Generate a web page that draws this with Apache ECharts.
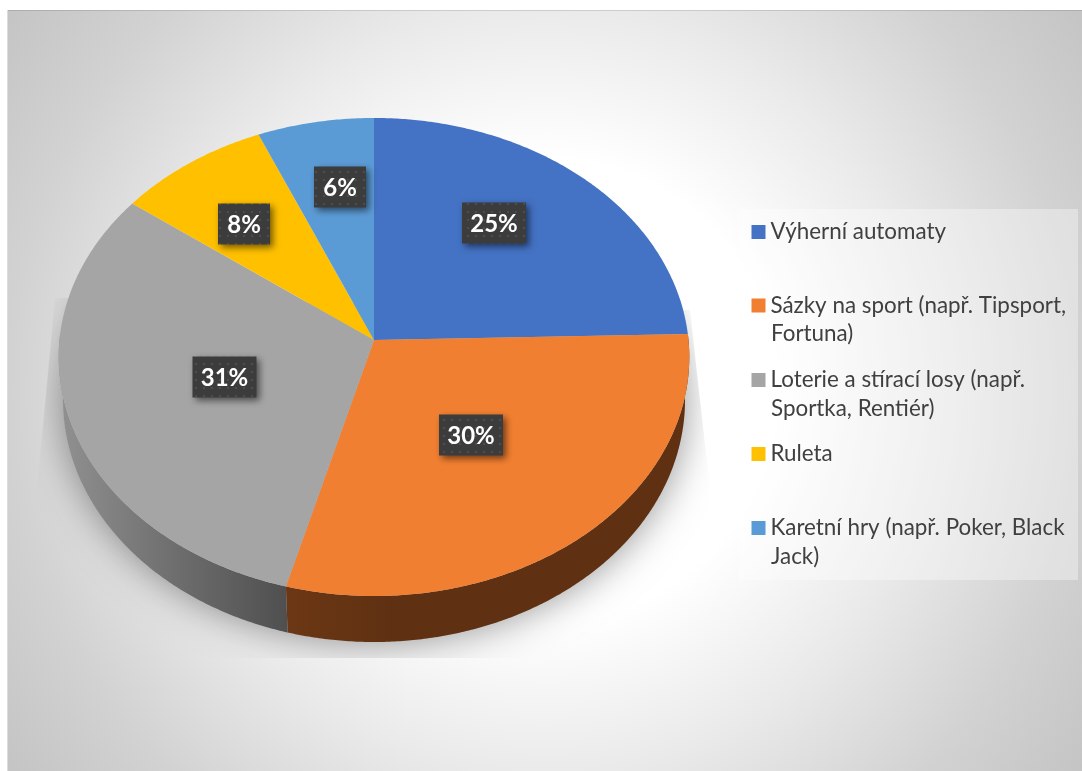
<!DOCTYPE html>
<html>
<head>
<meta charset="utf-8">
<style>html,body{margin:0;padding:0;background:#fff}#c{width:1082px;height:771px}</style>
<script src="https://cdn.jsdelivr.net/npm/echarts@6/dist/echarts.min.js"></script>
</head>
<body>
<div id="c"></div>
<script>
// ---- data ----
const legendLine1 = ["Výherní automaty", "Sázky na sport (např. Tipsport,", "Loterie a stírací losy (např.", "Ruleta", "Karetní hry (např. Poker, Black"];
const legendLine2 = ["", "Fortuna)", "Sportka, Rentiér)", "", "Jack)"];
const shares = [24.6, 29.6, 31, 8.4, 6.4];
const colors = ["#4472c4", "#f17f31", "#a5a5a5", "#ffc000", "#5b9bd5"];

// ---- layout ----
const CX = 374, CY = 340, RX = 314.5, SY = 237.8, K = 0.0711;
const LOW = {cx: 374, cy: 400, rx: 311, ry: 242, twist: 1};
const WALL_FROM = 88, WALL_TO = 272;
const labelBoxes = [[494, 223, 64], [471, 435, 64], [224.5, 377, 64], [244, 224, 52], [340, 187, 52]];
const legendTops = [225, 298.5, 373, 447, 521];
const wallFills = [
  null,
  {type:'linear', x:288, y:0, x2:690, y2:0, global:true, colorStops:[{offset:0,color:'#6c3714'},{offset:.25,color:'#5f3112'},{offset:1,color:'#5f3112'}]},
  {type:'linear', x:62, y:0, x2:288, y2:0, global:true, colorStops:[{offset:0,color:'#909090'},{offset:.5,color:'#6e6e6e'},{offset:1,color:'#4f4f4f'}]},
  null, null
];

const rad = d => d * Math.PI / 180;
function topPt(t){ const u=Math.sin(rad(t)), v=Math.cos(rad(t)), w=1+K*v; return [CX+RX*u/w, CY-SY*v/w]; }
function lowPt(t){ const a=rad(t+LOW.twist); return [LOW.cx+LOW.rx*Math.sin(a), LOW.cy-LOW.ry*Math.cos(a)]; }
function arc(fn,a,b){ const pts=[], n=Math.max(2,Math.ceil(Math.abs(b-a))*2); for(let i=0;i<=n;i++) pts.push(fn(a+(b-a)*i/n)); return pts; }

function dotPattern(){
  const c=document.createElement('canvas'); c.width=8; c.height=8;
  const g=c.getContext('2d'); g.fillStyle='#3c3c3c'; g.fillRect(0,0,8,8);
  g.fillStyle='#4d4d4d'; g.fillRect(3,3,2,2);
  return c;
}
const pattern={image:dotPattern(), repeat:'repeat'};

let acc=0;
const starts=shares.map(v=>{const s=acc; acc+=v; return s;});

function sliceSeries(i){
  const name=legendLine1[i]+(legendLine2[i]?' '+legendLine2[i]:'');
  return {
    type:'custom', name, coordinateSystem:'none', silent:true,
    data:[[starts[i],shares[i]]],
    itemStyle:{color:colors[i]},
    renderItem(params,api){
      const a=api.value(0)*3.6, b=a+api.value(1)*3.6;
      const children=[];
      const wa=Math.max(a,WALL_FROM), wb=Math.min(b,WALL_TO);
      if(wb>wa && wallFills[i]){
        children.push({type:'polygon',z2:1,shape:{points:arc(topPt,wa,wb).concat(arc(lowPt,wb,wa))},style:{fill:wallFills[i]}});
      }
      children.push({type:'polygon',z2:2,shape:{points:[[CX,CY]].concat(arc(topPt,a,b))},style:{fill:colors[i]}});
      const [lx,ly,lw]=labelBoxes[i], lh=41;
      children.push({type:'rect',z2:5,shape:{x:lx-lw/2,y:ly-lh/2,width:lw,height:lh},
        style:{fill:pattern,shadowBlur:7,shadowOffsetX:3,shadowOffsetY:3,shadowColor:'rgba(0,0,0,0.55)'}});
      children.push({type:'text',z2:6,x:lx,y:ly+1,style:{text:Math.round(api.value(1))+'%',fill:'#fff',
        font:'bold 24px Lato',align:'center',verticalAlign:'middle'}});
      return {type:'group',children};
    }
  };
}

const shadowSeries={
  type:'custom',name:'shadow',coordinateSystem:'none',silent:true,data:[[0]],
  renderItem(){
    return {type:'ellipse',z2:0,shape:{cx:LOW.cx,cy:LOW.cy,rx:LOW.rx,ry:LOW.ry},
      style:{fill:'#bdbdbd',shadowBlur:38,shadowColor:'rgba(0,0,0,0.42)'},
      clipPath:{type:'polygon',shape:{points:[[55,298],[37,490],[37,658],[710,658],[710,490],[690,310]]}}};
  }
};

const chart=echarts.init(document.getElementById('c'),null,{renderer:'canvas'});
chart.setOption({
  animation:false,
  backgroundColor:'#ffffff',
  graphic:{elements:[
    {type:'rect',z:0,silent:true,shape:{x:8,y:10,width:1074,height:761},style:{fill:{type:'radial',x:545,y:390,r:660,global:true,
      colorStops:[{offset:0,color:'#ffffff'},{offset:.35,color:'#ffffff'},{offset:.58,color:'#eaeaea'},{offset:.81,color:'#d2d2d2'},{offset:1,color:'#c4c4c4'}]}}},
    {type:'rect',z:0,silent:true,shape:{x:8,y:10,width:1074,height:1},style:{fill:'rgba(0,0,0,0.12)'}},
    {type:'rect',z:0,silent:true,shape:{x:7,y:10,width:1,height:761},style:{fill:'#dcdcdc'}},
    {type:'rect',z:1,silent:true,shape:{x:739,y:209,width:339,height:371},style:{fill:'rgba(255,255,255,0.35)'}},
    ...legendLine2.map((t,i)=>t?{type:'text',z:5,silent:true,x:771,y:legendTops[i]+7+28.5,
      style:{text:t,fill:'#404040',font:'22.4px Lato',verticalAlign:'middle'}}:null).filter(Boolean)
  ]},
  legend:legendLine1.map((t,i)=>({
    left:751.5, top:legendTops[i]-7, orient:'vertical', padding:0, itemWidth:14, itemHeight:14, selectedMode:false,
    icon:'rect',
    data:[{name:t+(legendLine2[i]?' '+legendLine2[i]:''),itemStyle:{color:colors[i]}}],
    formatter:()=>t,
    textStyle:{fontFamily:'Lato',fontSize:22.4,color:'#404040',lineHeight:28}
  })),
  series:[shadowSeries].concat(shares.map((_,i)=>sliceSeries(i)))
});
</script>
</body>
</html>
